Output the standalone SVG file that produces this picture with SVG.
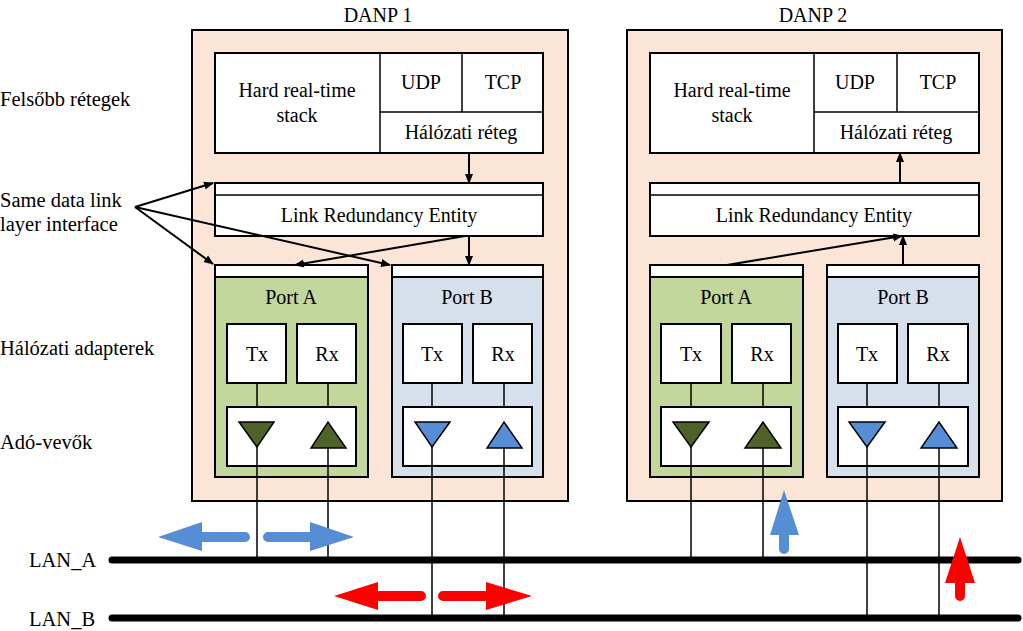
<svg xmlns="http://www.w3.org/2000/svg" width="1023" height="631" viewBox="0 0 1023 631">
<defs>
<marker id="ah" viewBox="0 0 10 10" refX="9" refY="5" markerWidth="10" markerHeight="10" markerUnits="userSpaceOnUse" orient="auto"><path d="M0,1 L10,5 L0,9 z" fill="#000"/></marker>
<style>
text{font-family:'Liberation Serif','Times New Roman','DejaVu Serif',serif;font-size:20px;fill:#000}
.lb{font-size:20.5px}
.c{text-anchor:middle}
.danp{fill:#fbe5d6;stroke:#000;stroke-width:2}
.w{fill:#fff;stroke:#000;stroke-width:2}
.pa{fill:#c3d69b;stroke:#000;stroke-width:2}
.pb{fill:#d5e0ec;stroke:#000;stroke-width:2}
.tg{fill:#4f6228;stroke:#000;stroke-width:1.5}
.tb{fill:#558ed5;stroke:#000;stroke-width:1.5}
.ln{stroke:#000;stroke-width:1.5;fill:none}
.ar{stroke:#000;stroke-width:2;fill:none;marker-end:url(#ah)}
.lan{stroke:#000;stroke-width:7;stroke-linecap:round}
</style>
</defs>
<rect width="1023" height="631" fill="#fff"/>

<g id="labels">
<text class="lb" x="0" y="106">Felsőbb rétegek</text>
<text class="lb" x="0" y="207">Same data link</text>
<text class="lb" x="0" y="231">layer interface</text>
<text class="lb" x="0" y="355">Hálózati adapterek</text>
<text class="lb" x="0" y="449">Adó-vevők</text>
<text class="lb" x="29" y="567">LAN_A</text>
<text class="lb" x="29" y="626">LAN_B</text>
</g>

<g id="lan">
<line class="lan" x1="112" y1="560" x2="1018" y2="560"/>
<line class="lan" x1="112" y1="618" x2="1018" y2="618"/>
</g>

<g id="danp1">
<text class="c" x="378" y="22">DANP 1</text>
<rect class="danp" x="192" y="30" width="376" height="471"/>
<rect class="w" x="215" y="53" width="328" height="100"/>
<line class="ln" x1="380" y1="53" x2="380" y2="153" stroke-width="2"/>
<line class="ln" x1="380" y1="112" x2="543" y2="112" stroke-width="2"/>
<line class="ln" x1="462" y1="53" x2="462" y2="112" stroke-width="2"/>
<text class="c" x="297" y="97">Hard real-time</text>
<text class="c" x="297" y="122">stack</text>
<text class="c" x="421" y="89">UDP</text>
<text class="c" x="503" y="89">TCP</text>
<text class="c" x="461" y="139">Hálózati réteg</text>
<rect class="w" x="215" y="183" width="328" height="53"/>
<line class="ln" x1="215" y1="195" x2="543" y2="195" stroke-width="2"/>
<text class="c" x="379" y="222">Link Redundancy Entity</text>
<g id="danp1-porta">
<rect class="pa" x="215" y="265" width="153" height="212"/>
<rect class="w" x="215" y="265" width="153" height="12"/>
<text class="c" x="291" y="304">Port A</text>
<rect class="w" x="227" y="324" width="59" height="59"/>
<rect class="w" x="297" y="324" width="59" height="59"/>
<text class="c" x="257" y="361">Tx</text>
<text class="c" x="327" y="361">Rx</text>
<rect class="w" x="227" y="407" width="129" height="59"/>
<line class="ln" x1="257" y1="383" x2="257" y2="407"/>
<line class="ln" x1="328" y1="383" x2="328" y2="407"/>
<polygon class="tg" points="239,422 274,422 257,447"/>
<polygon class="tg" points="311,448 346,448 328,422"/>
</g>
<g id="danp1-portb">
<rect class="pb" x="392" y="265" width="151" height="212"/>
<rect class="w" x="392" y="265" width="151" height="12"/>
<text class="c" x="467" y="304">Port B</text>
<rect class="w" x="403" y="324" width="59" height="59"/>
<rect class="w" x="473" y="324" width="59" height="59"/>
<text class="c" x="432" y="361">Tx</text>
<text class="c" x="503" y="361">Rx</text>
<rect class="w" x="403" y="407" width="129" height="59"/>
<line class="ln" x1="432" y1="383" x2="432" y2="407"/>
<line class="ln" x1="504" y1="383" x2="504" y2="407"/>
<polygon class="tb" points="415,422 450,422 432,447"/>
<polygon class="tb" points="487,448 522,448 504,422"/>
</g>
</g>

<g id="danp2">
<text class="c" x="813" y="22">DANP 2</text>
<rect class="danp" x="627" y="30" width="375" height="471"/>
<rect class="w" x="650" y="53" width="329" height="100"/>
<line class="ln" x1="814" y1="53" x2="814" y2="153" stroke-width="2"/>
<line class="ln" x1="814" y1="112" x2="979" y2="112" stroke-width="2"/>
<line class="ln" x1="897" y1="53" x2="897" y2="112" stroke-width="2"/>
<text class="c" x="732" y="97">Hard real-time</text>
<text class="c" x="732" y="122">stack</text>
<text class="c" x="855" y="89">UDP</text>
<text class="c" x="938" y="89">TCP</text>
<text class="c" x="896" y="139">Hálózati réteg</text>
<rect class="w" x="650" y="183" width="329" height="53"/>
<line class="ln" x1="650" y1="195" x2="979" y2="195" stroke-width="2"/>
<text class="c" x="814" y="222">Link Redundancy Entity</text>
<g id="danp2-porta">
<rect class="pa" x="650" y="265" width="153" height="212"/>
<rect class="w" x="650" y="265" width="153" height="12"/>
<text class="c" x="726" y="304">Port A</text>
<rect class="w" x="661" y="324" width="60" height="59"/>
<rect class="w" x="732" y="324" width="59" height="59"/>
<text class="c" x="691" y="361">Tx</text>
<text class="c" x="762" y="361">Rx</text>
<rect class="w" x="661" y="407" width="130" height="59"/>
<line class="ln" x1="691" y1="383" x2="691" y2="407"/>
<line class="ln" x1="763" y1="383" x2="763" y2="407"/>
<polygon class="tg" points="673,422 709,422 691,447"/>
<polygon class="tg" points="745,448 781,448 763,422"/>
</g>
<g id="danp2-portb">
<rect class="pb" x="827" y="265" width="152" height="212"/>
<rect class="w" x="827" y="265" width="152" height="12"/>
<text class="c" x="903" y="304">Port B</text>
<rect class="w" x="838" y="324" width="59" height="59"/>
<rect class="w" x="908" y="324" width="60" height="59"/>
<text class="c" x="867" y="361">Tx</text>
<text class="c" x="938" y="361">Rx</text>
<rect class="w" x="838" y="407" width="130" height="59"/>
<line class="ln" x1="867" y1="383" x2="867" y2="407"/>
<line class="ln" x1="939" y1="383" x2="939" y2="407"/>
<polygon class="tb" points="849,422 885,422 867,447"/>
<polygon class="tb" points="921,448 957,448 939,422"/>
</g>
</g>

<g id="connectors">
<line class="ln" x1="257" y1="447" x2="257" y2="560"/>
<line class="ln" x1="328" y1="448" x2="328" y2="560"/>
<line class="ln" x1="432" y1="447" x2="432" y2="618"/>
<line class="ln" x1="504" y1="448" x2="504" y2="618"/>
<line class="ln" x1="691" y1="447" x2="691" y2="560"/>
<line class="ln" x1="763" y1="448" x2="763" y2="560"/>
<line class="ln" x1="867" y1="447" x2="867" y2="618"/>
<line class="ln" x1="939" y1="448" x2="939" y2="618"/>
<line class="ar" x1="469" y1="153" x2="469" y2="183"/>
<line class="ar" x1="469" y1="236" x2="469" y2="265"/>
<line class="ar" x1="465" y1="236" x2="295" y2="265"/>
<line class="ar" x1="135" y1="207" x2="213" y2="183"/>
<line class="ar" x1="135" y1="207" x2="213" y2="264"/>
<line class="ar" x1="135" y1="207" x2="390" y2="265"/>
<line class="ar" x1="900" y1="183" x2="900" y2="153"/>
<line class="ar" x1="727" y1="265" x2="902" y2="236"/>
<line class="ar" x1="903" y1="265" x2="903" y2="236"/>
</g>

<g id="flow-arrows">
<path d="M158,537 L202,522 L202,532 L245,532 A5,5 0 0 1 245,542 L202,542 L202,551 Z" fill="#558ed5"/>
<path d="M354,537 L310,522 L310,532 L268,532 A5,5 0 0 0 268,542 L310,542 L310,551 Z" fill="#558ed5"/>
<path d="M334,596 L378,582 L378,591 L421,591 A5,5 0 0 1 421,601 L378,601 L378,610 Z" fill="#ff0000"/>
<path d="M532,596 L486,582 L486,591 L443,591 A5,5 0 0 0 443,601 L486,601 L486,610 Z" fill="#ff0000"/>
<path d="M784,490 L799,535 L789,535 L789,549 A5,5 0 0 1 779,549 L779,535 L770,535 Z" fill="#558ed5"/>
<path d="M960,537 L975,583 L965,583 L965,596 A5,5 0 0 1 955,596 L955,583 L945,583 Z" fill="#ff0000"/>
</g>
</svg>
